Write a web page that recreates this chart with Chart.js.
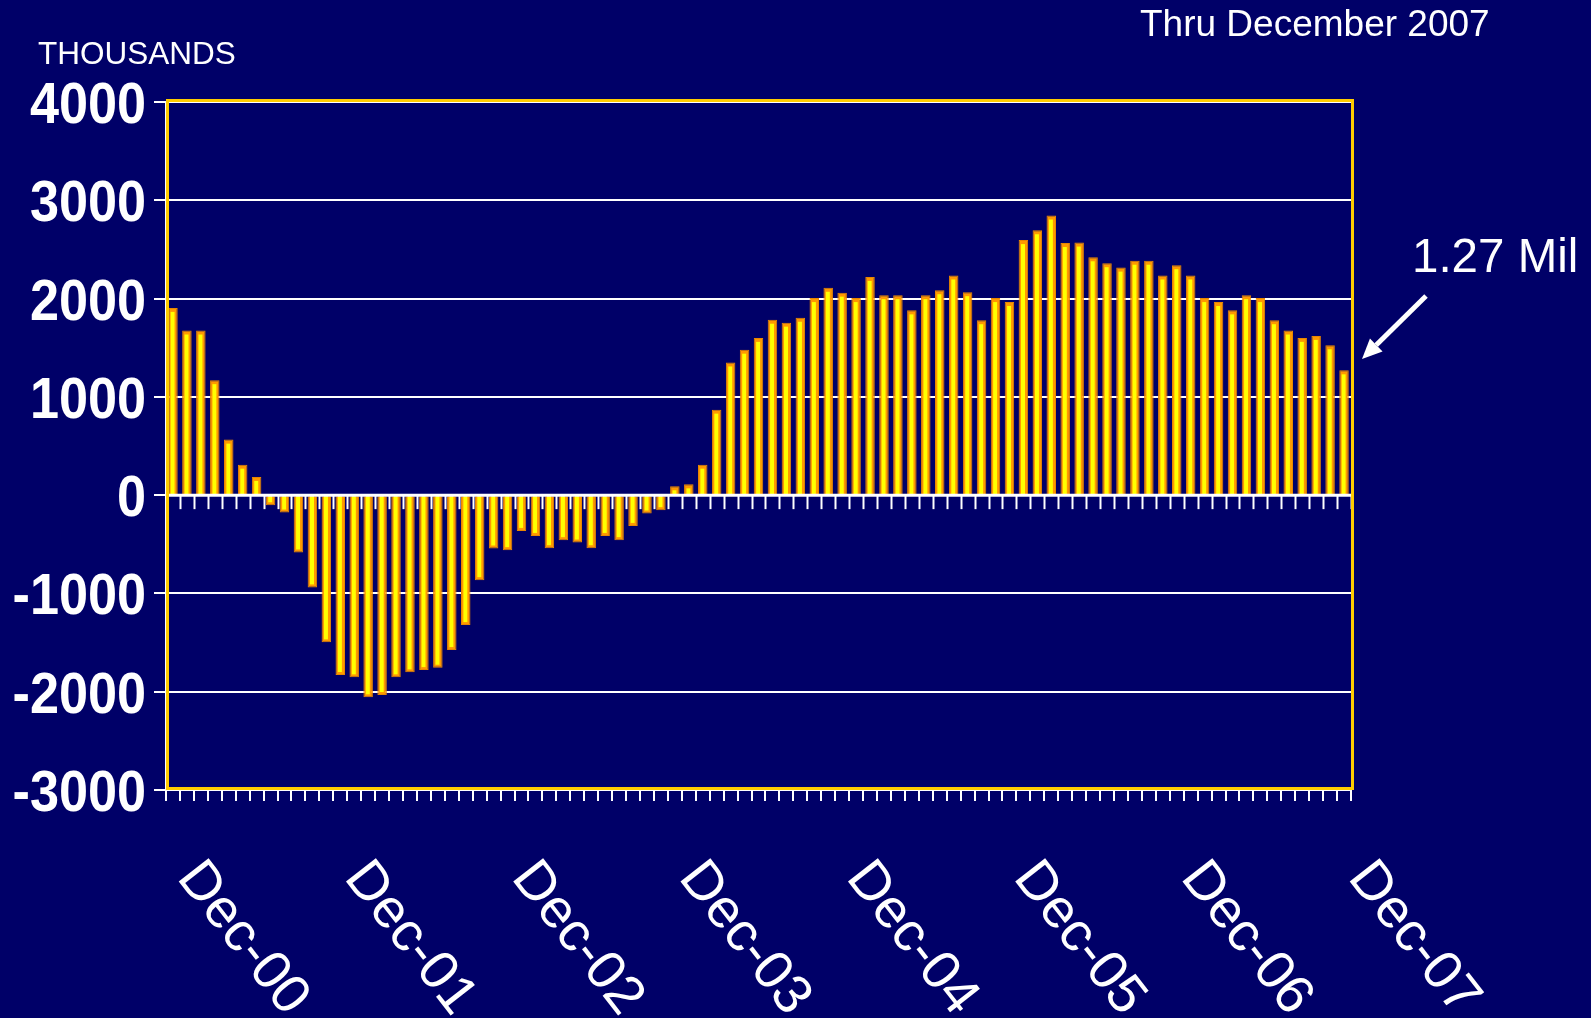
<!DOCTYPE html>
<html>
<head>
<meta charset="utf-8">
<script src="https://cdn.jsdelivr.net/npm/chart.js@4.4.1/dist/chart.umd.min.js"></script>
<style>
  html, body { margin: 0; padding: 0; background: #000068; }
  #wrap { position: relative; width: 1591px; height: 1018px; overflow: hidden; background: #000068; }
  canvas { position: absolute; left: 0; top: 0; }
  .t { position: absolute; color: #fff; font-family: "Liberation Sans", Arial, sans-serif; white-space: nowrap; line-height: 1; }
</style>
</head>
<body>
<div id="wrap">
  <canvas id="c" width="1591" height="1018"></canvas>
  <div class="t" style="left:38px; top:38px; font-size:31.5px;">THOUSANDS</div>
  <div class="t" style="left:1140px; top:5px; font-size:37px;">Thru December 2007</div>
  <div class="t" style="left:1412px; top:232px; font-size:47.5px;">1.27 Mil</div>
</div>
<script>
// ---- data ----
const monthNames = ['Jan','Feb','Mar','Apr','May','Jun','Jul','Aug','Sep','Oct','Nov','Dec'];
const categories = ['Dec-00'];
for (let y = 1; y <= 7; y++) {
  for (let m = 0; m < 12; m++) categories.push(monthNames[m] + '-0' + y);
}
const xTickLabels = ['Dec-00','Dec-01','Dec-02','Dec-03','Dec-04','Dec-05','Dec-06','Dec-07'];
const yTickValues = [4000, 3000, 2000, 1000, 0, -1000, -2000, -3000];
const changeValues = [
  1905, 1675, 1675, 1170, 565, 310, 185, -103, -177, -583, -939, -1498,
  -1830, -1854, -2057, -2034, -1854, -1803, -1780, -1756, -1576, -1322, -865, -543,
  -560, -364, -415, -540, -458, -482, -540, -415, -458, -313, -187, -153,
  90, 110, 310, 870, 1350, 1480, 1600, 1785, 1755, 1805, 2005, 2110,
  2060, 2005, 2220, 2035, 2035, 1880, 2035, 2085, 2235, 2065, 1780, 2005,
  1965, 2595, 2695, 2845, 2565, 2570, 2420, 2360, 2315, 2385, 2385, 2235,
  2340, 2235, 2005, 1965, 1880, 2035, 2005, 1780, 1675, 1600, 1620, 1525,
  1270
];

const WHITE = '#ffffff';
const GOLD = '#FFCC00';
const ORANGE = '#FF9900';
const YELLOW = '#FFFF00';

const decor = {
  id: 'decor',
  beforeDatasetsDraw(chart) {
    const c = chart.ctx, xs = chart.scales.x, ys = chart.scales.y;
    const y0 = ys.getPixelForValue(0);
    c.save();
    c.strokeStyle = WHITE;
    c.lineWidth = 2;
    for (let i = 0; i <= categories.length; i++) {
      const x = Math.round(xs.getPixelForValue(i - 0.5)) + 0.5;
      c.beginPath();
      c.moveTo(x, y0);
      c.lineTo(x, y0 + 14);
      c.stroke();
    }
    c.restore();
  },
  afterDatasetsDraw(chart) {
    const c = chart.ctx, a = chart.chartArea, ys = chart.scales.y, xs = chart.scales.x;
    const y0 = ys.getPixelForValue(0);
    c.save();
    // yellow highlight stripe inside each bar (from the bar elements' own geometry)
    c.fillStyle = YELLOW;
    chart.getDatasetMeta(0).data.forEach(el => {
      const p = el.getProps(['x', 'y', 'base', 'width'], true);
      const left = p.x - p.width / 2;
      const pos = p.y < p.base;
      const top = Math.min(p.y, p.base), bot = Math.max(p.y, p.base);
      const t = pos ? top + 4 : top;
      const b = pos ? bot : bot - 3;
      c.fillRect(left + p.width * 0.25, t, p.width * 0.42, Math.max(0, b - t));
    });
    // zero line
    c.strokeStyle = WHITE;
    c.lineWidth = 3;
    c.beginPath();
    c.moveTo(a.left, y0);
    c.lineTo(a.right, y0);
    c.stroke();
    // gold plot frame
    c.strokeStyle = GOLD;
    c.lineWidth = 3;
    c.strokeRect(a.left + 1.5, a.top - 1.5, a.right - a.left, a.bottom - a.top);
    // y tick labels (compressed bold)
    c.fillStyle = WHITE;
    c.font = 'bold 58px "Liberation Sans", Arial, sans-serif';
    c.textAlign = 'right';
    c.textBaseline = 'alphabetic';
    ys.ticks.forEach(t => {
      const y = ys.getPixelForValue(t.value);
      c.save();
      c.translate(146, y + 21);
      c.scale(0.9, 1);
      c.fillText(String(t.value), 0, 0);
      c.restore();
    });
    // x tick labels, rotated clockwise
    c.font = '55px "Liberation Sans", Arial, sans-serif';
    c.textAlign = 'left';
    categories.forEach((lab, i) => {
      if (xTickLabels.indexOf(lab) < 0) return;
      const x = xs.getPixelForValue(i);
      c.save();
      c.translate(x + 3, 878);
      c.rotate(52 * Math.PI / 180);
      c.fillText(lab, 0, 0);
      c.restore();
    });
    // arrow to last bar
    c.strokeStyle = WHITE;
    c.fillStyle = WHITE;
    c.lineWidth = 5;
    const x1 = 1426, y1 = 296, x2 = 1362, y2 = 359;
    const ang = Math.atan2(y2 - y1, x2 - x1);
    const hl = 20, hw = 9;
    const bx = x2 - hl * Math.cos(ang), by = y2 - hl * Math.sin(ang);
    c.beginPath();
    c.moveTo(x1, y1);
    c.lineTo(bx, by);
    c.stroke();
    c.beginPath();
    c.moveTo(x2, y2);
    c.lineTo(bx + hw * Math.sin(ang), by - hw * Math.cos(ang));
    c.lineTo(bx - hw * Math.sin(ang), by + hw * Math.cos(ang));
    c.closePath();
    c.fill();
    c.restore();
  }
};

new Chart(document.getElementById('c'), {
  type: 'bar',
  data: {
    labels: categories,
    datasets: [{
      data: changeValues,
      backgroundColor: ORANGE,
      borderColor: '#E88600',
      borderWidth: 1,
      barPercentage: 0.68,
      categoryPercentage: 1.0
    }]
  },
  options: {
    responsive: false,
    animation: false,
    events: [],
    layout: { padding: { top: 102, right: 240, left: 0, bottom: 0 } },
    plugins: { legend: { display: false }, tooltip: { enabled: false } },
    scales: {
      x: {
        ticks: { display: false, autoSkip: false },
        grid: { display: true, drawOnChartArea: false, drawTicks: true, tickLength: 11, color: WHITE, lineWidth: 2, offset: true },
        border: { display: true, color: WHITE, width: 2 },
        afterFit(scale) { scale.height = 1018 - 790; }
      },
      y: {
        min: -3000,
        max: 4000,
        ticks: { display: false, stepSize: 1000 },
        afterBuildTicks(scale) { scale.ticks = yTickValues.map(v => ({ value: v })); },
        grid: { color: WHITE, lineWidth: 2, drawTicks: true, tickLength: 12 },
        border: { display: true, color: WHITE, width: 2 },
        afterFit(scale) { scale.width = 166; }
      }
    }
  },
  plugins: [decor]
});
</script>
</body>
</html>
